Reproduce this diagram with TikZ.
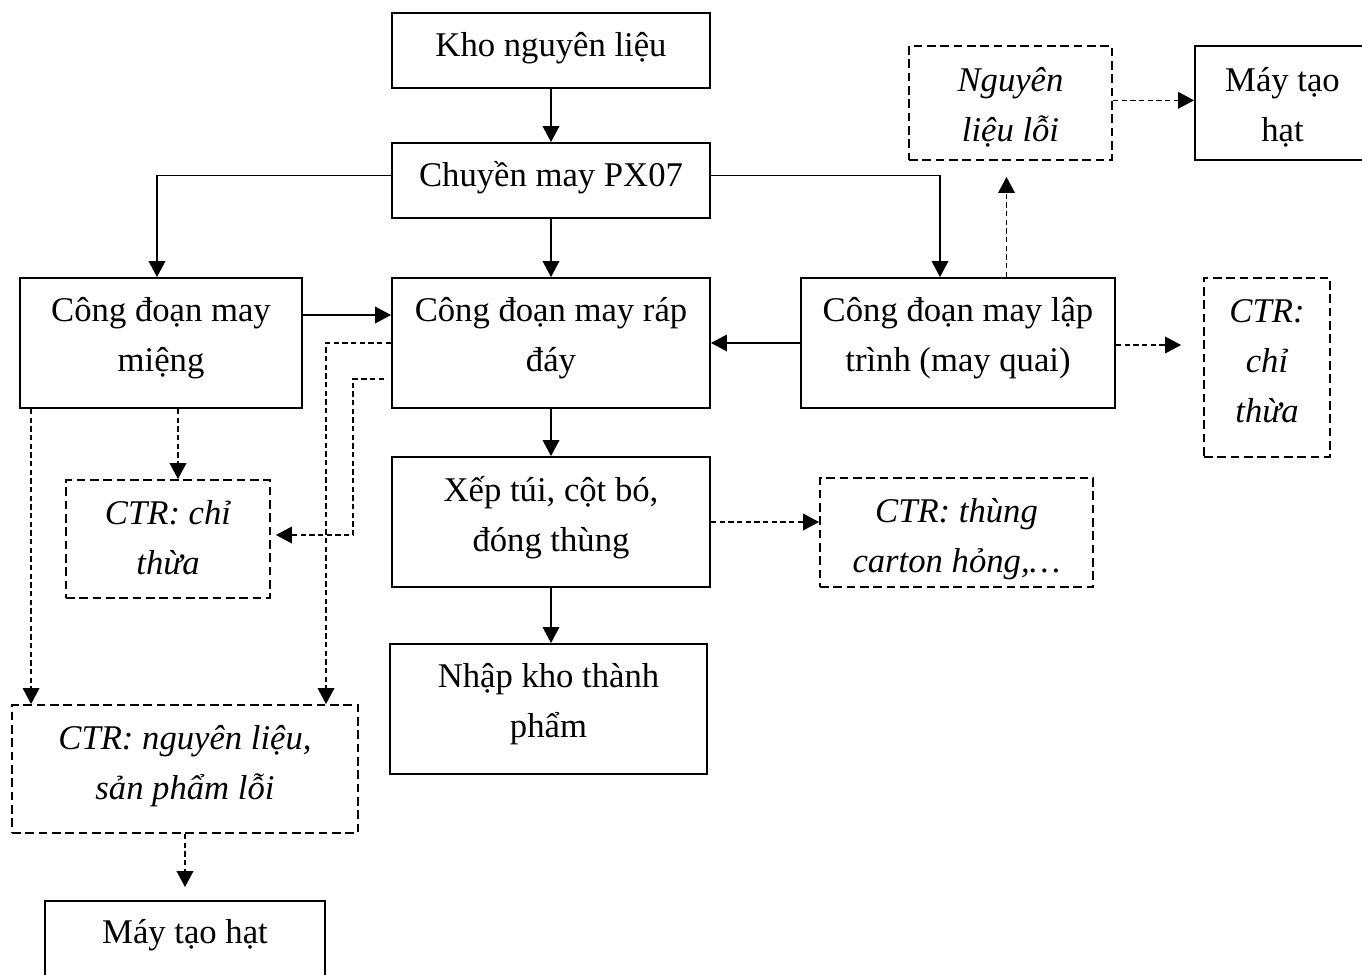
\documentclass[tikz,border=0pt]{standalone}
\usepackage{fontspec}
\setmainfont{Liberation Serif}
\usetikzlibrary{arrows.meta}
\newcommand\figfont{\fontsize{26}{37.5}\selectfont}
% centred lines, lifted by the optional amount without changing the box size
\newcommand\lines[2][0pt]{\raisebox{#1}[\height][\depth]{\begin{tabular}{@{}c@{}}#2\end{tabular}}}
\begin{document}
\begin{tikzpicture}[x=0.75pt,y=-0.75pt,
  box/.style={draw, line width=1.4pt, inner sep=0pt, font=\figfont},
  dbox/.style={box, dash pattern=on 6.5pt off 3.5pt, font=\figfont\itshape},
  arr/.style={line width=1pt, -{Triangle[length=12pt,width=12.5pt]}},
  darr/.style={arr, dash pattern=on 4pt off 2.5pt}]
\useasboundingbox (0,0) rectangle (1362,974);

% main process chain
\node[box, minimum width=238.5pt, minimum height=56.25pt] (kho) at (551,50.5) {\lines[3pt]{Kho nguyên liệu}};
\node[box, minimum width=238.5pt, minimum height=56.25pt] (chuyen) at (551,180.5) {\lines[3pt]{Chuyền may PX07}};
\node[box, minimum width=211.5pt, minimum height=97.5pt] (mieng) at (161,343) {\lines[5.25pt]{Công đoạn may\\miệng}};
\node[box, minimum width=238.5pt, minimum height=97.5pt] (rap) at (551,343) {\lines[5.25pt]{Công đoạn may ráp\\đáy}};
\node[box, minimum width=235.5pt, minimum height=97.5pt] (laptrinh) at (958,343) {\lines[5.25pt]{Công đoạn may lập\\trình (may quai)}};
\node[box, minimum width=238.5pt, minimum height=97.5pt] (xep) at (551,522) {\lines[4.5pt]{Xếp túi, cột bó,\\đóng thùng}};
\node[box, minimum width=237.75pt, minimum height=97.5pt] (nhap) at (548.5,709) {\lines[5.25pt]{Nhập kho thành\\phẩm}};

% waste streams and recycling
\node[dbox, minimum width=152.25pt, minimum height=85.5pt] (nllo) at (1010.5,103) {\lines[-2.25pt]{Nguyên\\liệu lỗi}};
\node[box, minimum width=131.25pt, minimum height=85.5pt] (mth1) at (1282.5,103) {\lines[-2.25pt]{Máy tạo\\hạt}};
\node[dbox, minimum width=94.5pt, minimum height=134.25pt] (ctr1) at (1267,367.5) {\lines[3.75pt]{CTR:\\chỉ\\thừa}};
\node[dbox, minimum width=153pt, minimum height=88.5pt] (ctr2) at (168,539) {\lines{CTR: chỉ\\thừa}};
\node[dbox, minimum width=204.75pt, minimum height=81.75pt] (carton) at (956.5,532.5) {\lines[-3.75pt]{CTR: thùng\\carton hỏng,…}};
\node[dbox, minimum width=259.5pt, minimum height=96pt] (ctr3) at (185,769) {\lines[3.75pt]{CTR: nguyên liệu,\\sản phẩm lỗi}};
\node[box, minimum width=210pt, minimum height=56.25pt] (mth2) at (185,938.5) {\lines[3.75pt]{Máy tạo hạt}};

% solid flow
\draw[arr] (kho) -- (chuyen);
\draw[arr] (chuyen) -- (rap);
\draw[arr] ([yshift=4pt]chuyen.west) -| ([xshift=-3pt]mieng.north);
\draw[arr] ([yshift=4pt]chuyen.east) -| ([xshift=-13.5pt]laptrinh.north);
\draw[arr] ([yshift=21pt]mieng.east) -- ([yshift=21pt]rap.west);
\draw[arr] (laptrinh.west) -- (rap.east);
\draw[arr] (rap) -- (xep);
\draw[arr] (xep.south) -- (xep.south |- nhap.north);

% dashed waste flow
\draw[darr, shorten >=12pt] ([xshift=-3pt]laptrinh.north -| nllo.south) -- ([xshift=-3pt]nllo.south);
\draw[darr] ([yshift=2pt]nllo.east) -- ([yshift=2pt]nllo.east -| mth1.west);
\draw[darr, shorten >=16.5pt] ([yshift=-1.5pt]laptrinh.east) -- ([yshift=-1.5pt]laptrinh.east -| ctr1.west);
\draw[darr] (xep.east) -- (xep.east -| carton.west);
\draw[darr] ([xshift=12.75pt]mieng.south) -- ([xshift=12.75pt]mieng.south |- ctr2.north);
\draw[darr] ([xshift=9pt]mieng.south west) -- ([xshift=9pt]mieng.south west |- ctr3.north);
\draw[darr] (rap.west) -| ([xshift=105.75pt]ctr3.north);
\draw[darr, shorten >=3.75pt] ([xshift=-5.25pt,yshift=-27pt]rap.west) -- ++(-23.25pt,0pt) |- ([yshift=3pt]ctr2.east);
\draw[darr, shorten >=9.75pt] (ctr3.south) -- (mth2.north);
\end{tikzpicture}
\end{document}
